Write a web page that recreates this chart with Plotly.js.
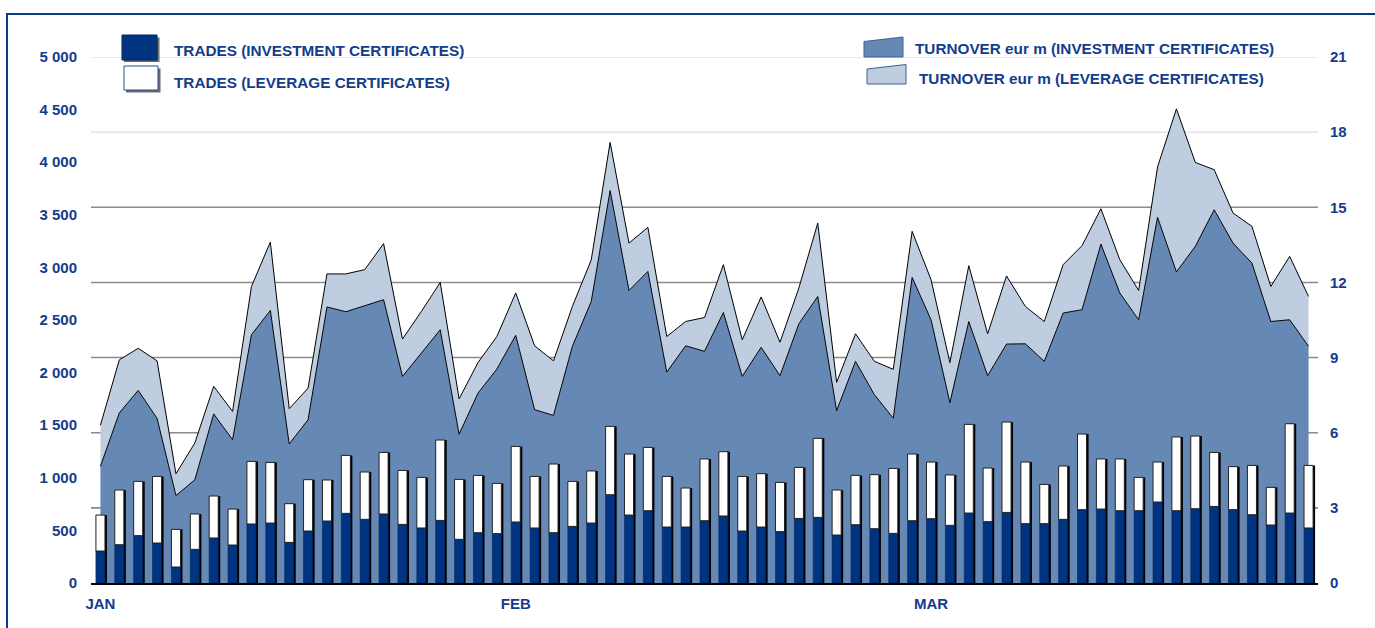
<!DOCTYPE html>
<html>
<head>
<meta charset="utf-8">
<script src="https://cdn.plot.ly/plotly-3.0.1.min.js"></script>
<style>
html,body{margin:0;padding:0;background:#fff;}
#chart{width:1375px;height:628px;}
</style>
</head>
<body>
<div id="chart"></div>
<script>
// ---- data ----
const monthLabels = ['JAN', 'FEB', 'MAR'];
const monthStartIdx = [0, 22, 44];

const tradesInvestment = [304,364,450,380,152,320,428,361,561,570,386,494,589,662,605,656,557,523,595,415,478,469,
  580,523,478,538,570,839,646,687,532,532,592,637,494,532,488,614,624,456,554,516,472,592,
  611,548,665,583,671,564,564,605,697,703,687,687,770,687,706,728,697,649,551,665,523];
const tradesLeverage = [342,520,516,633,358,336,399,342,595,576,368,488,390,551,450,585,513,481,764,570,545,478,
  718,490,653,428,495,650,580,602,481,371,587,611,519,507,468,485,751,428,469,514,617,634,
  539,479,843,510,859,586,373,507,719,476,492,317,380,701,691,513,409,469,358,849,595];
const turnoverInvestment = [4.66,6.79,7.69,6.57,3.49,4.12,6.75,5.72,9.91,10.88,5.55,6.52,11.02,10.83,11.07,11.31,8.25,9.18,10.11,5.94,7.58,8.54,
  9.89,6.92,6.69,9.45,11.24,15.67,11.68,12.44,8.42,9.47,9.25,10.80,8.25,9.41,8.28,10.35,11.44,6.88,8.85,7.52,6.58,12.20,
  10.51,7.20,10.44,8.28,9.54,9.55,8.85,10.78,10.91,13.53,11.58,10.51,14.60,12.42,13.44,14.90,13.57,12.77,10.44,10.51,9.45];
const turnoverLeverage = [1.64,2.12,1.68,2.30,0.87,1.47,1.10,1.13,1.93,2.73,1.41,1.26,1.32,1.51,1.44,2.24,1.49,1.66,1.89,1.41,1.22,1.30,
  1.69,2.55,2.18,1.59,1.66,1.92,1.89,1.76,1.42,0.97,1.35,1.91,1.46,2.01,1.33,1.43,2.93,1.13,1.10,1.33,1.95,1.84,
  1.60,1.60,2.23,1.67,2.72,1.49,1.59,1.93,2.56,1.41,1.33,1.17,2.01,6.51,3.35,1.60,1.20,1.47,1.40,2.53,1.99];

const legendNames = ['TRADES (INVESTMENT CERTIFICATES)', 'TRADES (LEVERAGE CERTIFICATES)',
  'TURNOVER eur m (INVESTMENT CERTIFICATES)', 'TURNOVER eur m (LEVERAGE CERTIFICATES)'];

// ---- styling ----
const W = 1375, H = 628;
const M = {l: 91, r: 57, t: 57, b: 45};
const PW = W - M.l - M.r, PH = H - M.t - M.b;
const px = x => (x - M.l) / PW;
const py = y => (H - M.b - y) / PH;

const NAVY = '#003380';
const TEXT = '#143c8c';
const INV_AREA = '#6688b5';
const LEV_AREA = '#bfcde0';
const FONT = 'Liberation Sans, Arial, sans-serif';

const days = tradesInvestment.map((_, i) => i);
const tradesTotal = tradesInvestment.map((v, i) => v + tradesLeverage[i]);

const barW = 0.48;
const shadowShift = 2 / (PW / days.length);

const traces = [
  {type: 'scatter', x: days, y: turnoverInvestment, stackgroup: 'turn', mode: 'lines',
   line: {color: '#000', width: 1}, fillcolor: INV_AREA, name: legendNames[2],
   xaxis: 'x', yaxis: 'y', hoverinfo: 'y'},
  {type: 'scatter', x: days, y: turnoverLeverage, stackgroup: 'turn', mode: 'lines',
   line: {color: '#000', width: 1}, fillcolor: LEV_AREA, name: legendNames[3],
   xaxis: 'x', yaxis: 'y', hoverinfo: 'y'},
  // bar shadow
  {type: 'bar', x: days, y: tradesTotal, width: barW, offset: -barW / 2 + shadowShift,
   marker: {color: '#000', line: {width: 0}}, xaxis: 'x', yaxis: 'y2', hoverinfo: 'skip', showlegend: false},
  {type: 'bar', x: days, y: tradesInvestment, width: barW, offset: -barW / 2,
   marker: {color: NAVY, line: {color: '#00255e', width: 0.6}}, name: legendNames[0],
   xaxis: 'x', yaxis: 'y2'},
  {type: 'bar', x: days, y: tradesLeverage, base: tradesInvestment, width: barW, offset: -barW / 2,
   marker: {color: '#ffffff', line: {color: '#222', width: 1}}, name: legendNames[1],
   xaxis: 'x', yaxis: 'y2'}
];

const gridVals = [3, 6, 9, 12, 15, 18, 21];
const shapes = [];
gridVals.forEach(v => {
  shapes.push({type: 'line', xref: 'paper', yref: 'y', x0: 0, x1: 1, y0: v, y1: v,
    layer: 'below', line: {color: v >= 18 ? '#d6d6d6' : '#8c8c8c', width: v >= 18 ? 1 : 1.6}});
});
// frame
shapes.push({type: 'rect', xref: 'paper', yref: 'paper', x0: px(7), x1: px(1420), y0: py(14), y1: py(700),
  line: {color: '#0b3a86', width: 2}, fillcolor: 'rgba(0,0,0,0)', layer: 'below'});
// legend symbols
shapes.push({type: 'rect', xref: 'paper', yref: 'paper', x0: px(124), x1: px(159.5), y0: py(37.5), y1: py(62),
  line: {width: 0}, fillcolor: '#6b6b6b'});
shapes.push({type: 'rect', xref: 'paper', yref: 'paper', x0: px(122), x1: px(157), y0: py(35), y1: py(60),
  line: {color: '#00255e', width: 1}, fillcolor: NAVY});
shapes.push({type: 'rect', xref: 'paper', yref: 'paper', x0: px(126), x1: px(160.5), y0: py(68.5), y1: py(92.5),
  line: {width: 0}, fillcolor: '#6b6b6b'});
shapes.push({type: 'rect', xref: 'paper', yref: 'paper', x0: px(124), x1: px(158), y0: py(66), y1: py(90),
  line: {color: '#2a4f8f', width: 1}, fillcolor: '#ffffff'});
const trap = (x0, x1, yl, yr, yb) =>
  `M${px(x0)},${py(yl)} L${px(x1)},${py(yr)} L${px(x1)},${py(yb)} L${px(x0)},${py(yb)} Z`;
shapes.push({type: 'path', xref: 'paper', yref: 'paper', path: trap(864, 903, 41.5, 37, 57),
  line: {color: '#3d5f96', width: 1}, fillcolor: INV_AREA});
shapes.push({type: 'path', xref: 'paper', yref: 'paper', path: trap(867, 906, 69, 64.5, 84),
  line: {color: '#3d5f96', width: 1}, fillcolor: LEV_AREA});

const legFont = {family: FONT, size: 15.3, color: TEXT, weight: 'bold'};
const annotations = [
  {text: legendNames[0], x: px(172), y: py(50.5)},
  {text: legendNames[1], x: px(172), y: py(82)},
  {text: legendNames[2], x: px(913), y: py(48.5)},
  {text: legendNames[3], x: px(917), y: py(78.5)}
].map(a => Object.assign({xref: 'paper', yref: 'paper', xanchor: 'left', yanchor: 'middle',
  showarrow: false, font: legFont}, a));

const tickFont = {family: FONT, size: 15, color: TEXT, weight: 'bold'};

const layout = {
  width: W, height: H,
  margin: M,
  paper_bgcolor: 'rgba(0,0,0,0)', plot_bgcolor: 'rgba(0,0,0,0)',
  showlegend: false,
  barmode: 'overlay',
  separators: '. ',
  xaxis: {range: [-0.5, days.length - 0.5], tickmode: 'array', tickvals: monthStartIdx, ticktext: monthLabels,
    showgrid: false, zeroline: false, showline: true, linecolor: '#000', linewidth: 1.5,
    ticks: '', tickfont: tickFont, ticklabelstandoff: 6, fixedrange: true},
  yaxis: {side: 'right', range: [0, 21], dtick: 3, tick0: 0, showgrid: false, zeroline: false,
    showline: false, ticks: '', tickfont: tickFont, ticklabelstandoff: 11},
  yaxis2: {overlaying: 'y', side: 'left', range: [0, 5000], dtick: 500, tick0: 0, tickformat: ',d',
    showgrid: false, zeroline: false, showline: false, ticks: '', tickfont: tickFont, ticklabelstandoff: 13},
  shapes: shapes,
  annotations: annotations
};

Plotly.newPlot('chart', traces, layout, {displayModeBar: false, staticPlot: true});
</script>
</body>
</html>
